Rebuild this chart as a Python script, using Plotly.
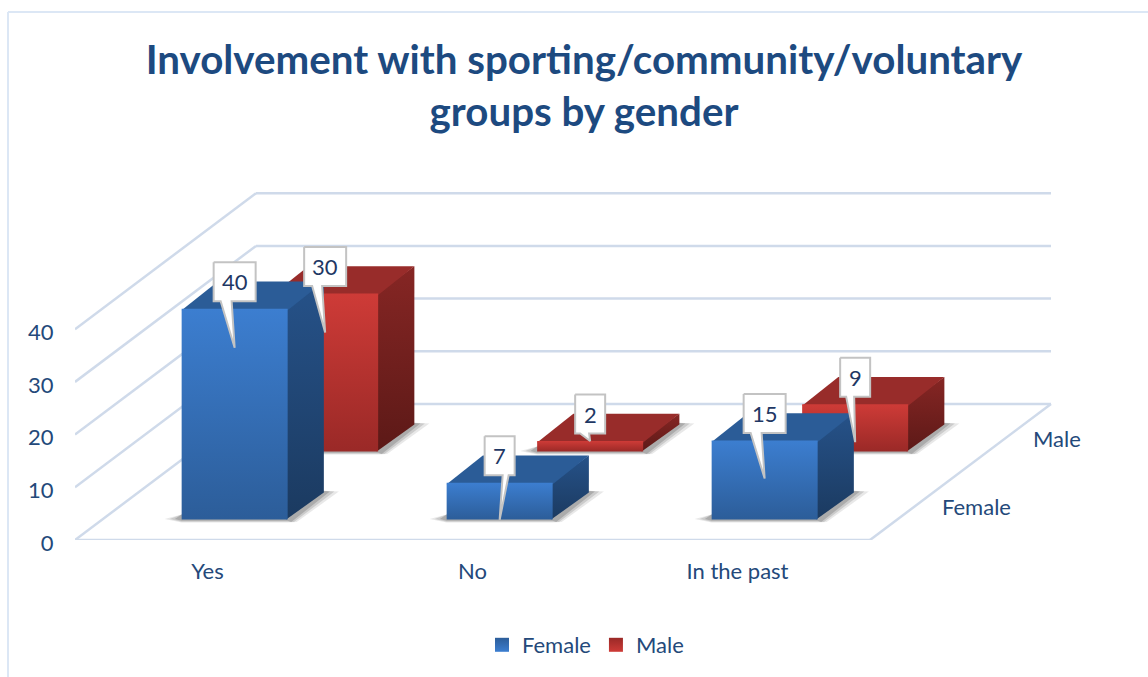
import plotly.graph_objects as go

# ---- data ----
CATEGORIES = ["Yes", "No", "In the past"]
SERIES = ["Female", "Male"]
FEMALE = [40, 7, 15]
MALE = [30, 2, 9]
AXIS_TICKS = [0, 10, 20, 30, 40]
TITLE = "Involvement with sporting/community/voluntary<br>groups by gender"

# ---- geometry (oblique projection scales, px) ----
W, H = 1148, 677
LEFT, BASE = 75, 540           # pixel of the floor's front-left corner
PX_CAT = 265.0                 # px per category
PX_VAL = 5.27                  # px per value unit
DEPTH_X, DEPTH_Y = 90.5, 68.0  # px per depth row
BAR_W = 0.4                    # bar width, share of category
BAR_D = 0.4                    # bar depth, share of row
BAR_D0 = 0.3                   # bar front, within the row

TEXT = "#24497A"
DARK = "#1F3864"
GRID = "#CFDAEA"
COLORS = {
    "Female": dict(front=("#3C7ED0", "#2C5D99"), side=("#265289", "#1B3A60"), top="#2B5C97"),
    "Male": dict(front=("#CE3B37", "#9A2927"), side=("#862624", "#5C1917"), top="#982C2A"),
}
# callout tail: (base left, base right, tip drop below front top), px
TAILS = {
    "Female": [(-14, -3, 39), (3, 9, 37), (-14, -3, 38)],
    "Male": [(-13, -3, 39), (-10, -1, 0), (-9, -1, 38)],
}


def proj(cat, depth, val):
    """category / depth-row / value -> axis coordinates"""
    return (cat + depth * DEPTH_X / PX_CAT, val + depth * DEPTH_Y / PX_VAL)


def poly(points, **kw):
    xs = [p[0] for p in points]
    ys = [p[1] for p in points]
    return go.Scatter(x=xs + xs[:1], y=ys + ys[:1], mode="lines", fill="toself",
                      line=dict(width=0), hoverinfo="skip", showlegend=False, **kw)


def grad(top, bottom):
    return dict(type="vertical", colorscale=[[0, bottom], [1, top]])


fig = go.Figure()

# ---- walls and floor grid ----
gx, gy = [], []
def seg(a, b):
    gx.extend([a[0], b[0], None])
    gy.extend([a[1], b[1], None])

n = len(CATEGORIES)
rows = len(SERIES)
for t in AXIS_TICKS:
    seg(proj(0, 0, t), proj(0, rows, t))
    seg(proj(0, rows, t), proj(n, rows, t))
seg(proj(0, 0, 0), proj(n, 0, 0))
seg(proj(n, 0, 0), proj(n, rows, 0))
fig.add_trace(go.Scatter(x=gx, y=gy, mode="lines", line=dict(color=GRID, width=2.5),
                         hoverinfo="skip", showlegend=False))


def add_shadow(i, row):
    x0 = i + (1 - BAR_W) / 2
    x1 = x0 + BAR_W
    d0 = row + BAR_D0
    d1 = d0 + BAR_D
    ux, uy = 1 / PX_CAT, 1 / PX_VAL
    for s, a in ((1.0, 0.10), (0.7, 0.14), (0.4, 0.18)):
        fl = proj(x0, d0, 0)
        fr = proj(x1, d0, 0)
        br = proj(x1, d1, 0)
        pts = [
            (fl[0] - 17 * s * ux, fl[1] + 0.5 * uy),
            (fl[0], fl[1] + 5 * uy),
            (br[0] - 5 * ux, br[1] + 2 * uy),
            (br[0] + 15 * s * ux, br[1] + 1 * uy),
            (fr[0] + 9 * s * ux, fr[1] - 2.5 * uy),
            (fr[0], fr[1] - 3 * s * uy),
            (fl[0], fl[1] - 3 * s * uy),
        ]
        fig.add_trace(poly(pts, fillcolor=f"rgba(30,30,30,{a})"))


def add_bar(i, row, value, name):
    c = COLORS[name]
    x0 = i + (1 - BAR_W) / 2
    x1 = x0 + BAR_W
    d0 = row + BAR_D0
    d1 = d0 + BAR_D
    ov = 1.5 / PX_CAT      # faces overlap slightly so no seam shows between them
    ovy = 1.5 / PX_VAL
    a0, a1 = proj(x1, d0, 0), proj(x1, d0, value)
    fig.add_trace(poly([(a0[0] - ov, a0[1]), proj(x1, d1, 0), proj(x1, d1, value), (a1[0] - ov, a1[1])],
                       fillgradient=grad(*c["side"])))
    b0, b1 = proj(x0, d0, value), proj(x1, d0, value)
    fig.add_trace(poly([(b0[0], b0[1] - ovy), (b1[0], b1[1] - ovy), proj(x1, d1, value), proj(x0, d1, value)],
                       fillcolor=c["top"]))
    fig.add_trace(poly([proj(x0, d0, 0), proj(x1, d0, 0), proj(x1, d0, value), proj(x0, d0, value)],
                       fillgradient=grad(*c["front"])))


def add_callout(i, row, value, name):
    x0 = i + (1 - BAR_W) / 2
    d0 = row + BAR_D0
    cx, top = proj(x0 + BAR_W / 2, d0, value)
    ux, uy = 1 / PX_CAT, 1 / PX_VAL
    half = (21 if value >= 10 else 15)
    cy = top + 27 * uy
    hh = 19.5
    bl, br, drop = TAILS[name][i]
    pts = [
        (cx - half * ux, cy + hh * uy),
        (cx + half * ux, cy + hh * uy),
        (cx + half * ux, cy - hh * uy),
        (cx + br * ux, cy - hh * uy),
        (cx, top - drop * uy),
        (cx + bl * ux, cy - hh * uy),
        (cx - half * ux, cy - hh * uy),
    ]
    xs = [p[0] for p in pts]
    ys = [p[1] for p in pts]
    fig.add_trace(go.Scatter(x=xs + xs[:1], y=ys + ys[:1], mode="lines", fill="toself",
                             fillcolor="#FFFFFF", line=dict(color="#C3C3C3", width=2),
                             hoverinfo="skip", showlegend=False))
    fig.add_annotation(x=cx, y=cy, xref="x", yref="y", text=str(value), showarrow=False,
                       font=dict(family="Lato", size=22, color=DARK))


SERIES_VALUES = [FEMALE, MALE]
# back row first so the front row covers it
for row in (1, 0):
    for i in range(n):
        add_shadow(i, row)
    for i in range(n):
        add_bar(i, row, SERIES_VALUES[row][i], SERIES[row])
for row in (1, 0):
    for i in range(n):
        add_callout(i, row, SERIES_VALUES[row][i], SERIES[row])

# ---- legend entries ----
for name in SERIES:
    top, bottom = COLORS[name]["front"]
    fig.add_trace(go.Scatter(
        x=[None], y=[None], mode="markers", name=name, hoverinfo="skip",
        marker=dict(symbol="square", size=14, color=bottom,
                    gradient=dict(type="vertical", color=top), line=dict(width=0))))

# ---- depth axis labels ----
for row, name in enumerate(SERIES):
    px, py = proj(n, row + 0.5, 0)
    fig.add_annotation(x=px, y=py, xref="x", yref="y", text=name, showarrow=False,
                       xanchor="left", xshift=25, font=dict(family="Lato", size=22, color=TEXT))

# ---- outer frame ----
for x0, y0, x1, y1 in ((8, 12, 8, H), (8, 12, W, 12)):
    fig.add_shape(type="line", xref="paper", yref="paper",
                  x0=(x0 - LEFT) / (W - LEFT), x1=(x1 - LEFT) / (W - LEFT),
                  y0=(BASE - y0) / BASE, y1=(BASE - y1) / BASE,
                  line=dict(color="#DCE7F5", width=2))

fig.update_layout(
    width=W, height=H, autosize=False,
    margin=dict(l=LEFT, r=0, t=0, b=H - BASE, pad=0),
    paper_bgcolor="white", plot_bgcolor="rgba(0,0,0,0)",
    font=dict(family="Lato", size=22, color=TEXT),
    title=dict(text=TITLE, x=584 / W, xanchor="center", xref="container",
               y=1 - 74 / H, yref="container", yanchor="middle",
               font=dict(family="Lato", size=40.3, color="#1D4A80", weight="bold")),
    xaxis=dict(range=[0, (W - LEFT) / PX_CAT], tickmode="array",
               tickvals=[i + 0.5 for i in range(n)], ticktext=CATEGORIES,
               ticks="outside", ticklen=12, tickcolor="rgba(0,0,0,0)",
               showgrid=False, zeroline=False, showline=False,
               tickfont=dict(family="Lato", size=22, color=TEXT)),
    yaxis=dict(range=[0, BASE / PX_VAL], tickmode="array", tickvals=AXIS_TICKS,
               ticks="outside", ticklen=16, tickcolor="rgba(0,0,0,0)",
               showgrid=False, zeroline=False, showline=False, ticklabelshift=3,
               tickfont=dict(family="Lato", size=22, color=TEXT)),
    legend=dict(orientation="h", x=(585.5 - LEFT) / (W - LEFT), xanchor="center",
                y=-(645 - BASE) / BASE, yanchor="middle", itemclick=False,
                font=dict(family="Lato", size=22, color=TEXT), bgcolor="rgba(0,0,0,0)"),
    hovermode=False,
)

fig.write_html("out.html", config=dict(displayModeBar=False),
               post_script="document.body.style.margin='0';document.body.style.overflow='hidden';")
